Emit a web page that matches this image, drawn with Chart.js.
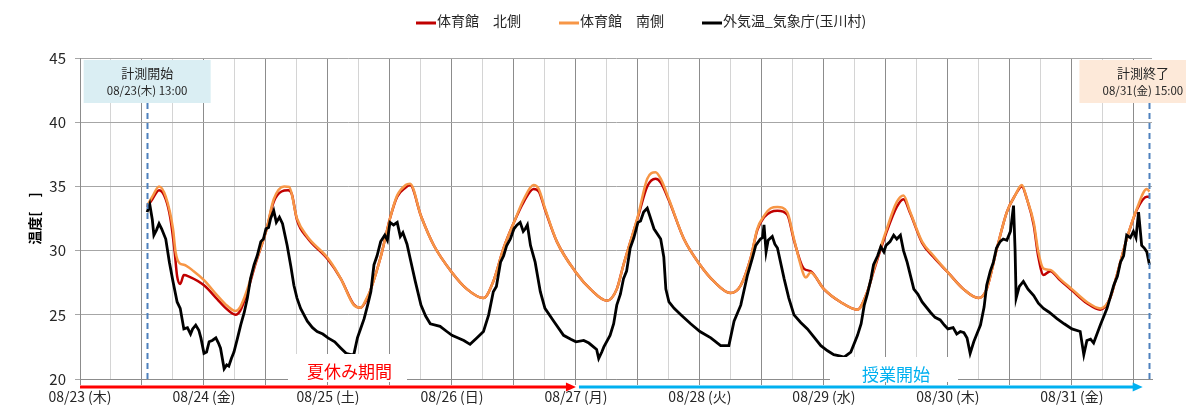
<!DOCTYPE html>
<html>
<head>
<meta charset="utf-8">
<script src="https://cdn.jsdelivr.net/npm/chart.js@4"></script>
<style>
  html, body { margin: 0; padding: 0; background: #fff; }
  #wrap { width: 1186px; height: 407px; }
</style>
</head>
<body>
<div id="wrap"><canvas id="myChart" width="1186" height="407"></canvas></div>
<script>
// hours counted from 08/23 00:00
const dayLabels = ['08/23 (木)','08/24 (金)','08/25 (土)','08/26 (日)','08/27 (月)','08/28 (火)','08/29 (水)','08/30 (木)','08/31 (金)'];
const yTicks = [20, 25, 30, 35, 40, 45];
const startHour = 13;    // 計測開始 08/23 13:00
const endHour = 207;     // 計測終了 08/31 15:00
const breakHour = 96;    // 08/27 00:00

const northHours = [13,14,15.3,16.6,17.5,18.3,18.8,19.4,20.1,21,24,26.6,28,29.5,30.1,31,32.4,34,36,37.5,39,40.3,41,42,44,48,50.5,53,54.3,55.5,56.3,58.2,60,61.4,63,63.9,66,68.5,72,74.9,78.1,80,82,84,85.9,87.8,88.8,90,92.3,96,98.8,102,103.9,105.2,108,109.8,111.4,112.4,114,116.9,120,122.7,125.9,127.9,129.8,131.1,132.4,133.7,135,136.9,138.2,140.1,141.4,144,147.2,150.5,152.4,153.7,156,158.1,159.4,160.7,163,165.2,168,171,173.9,175.5,177.5,179.4,181,182.3,183.3,184.6,185.5,186.5,187.8,189.7,192,194.9,197.5,199.4,200.7,202.6,204.6,206.5,207];
const northTemp  = [33.4,34.0,34.7,34.0,32.5,30.0,28.0,27.4,28.1,28.0,27.3,26.2,25.6,25.1,25.0,25.3,26.8,29.0,31.5,33.8,34.6,34.7,34.4,32.4,31.0,29.3,27.8,25.8,25.55,26.2,27.0,29.5,32.5,34.2,34.9,35.1,32.7,30.4,28.3,27.0,26.3,27.6,30.2,32.2,33.8,34.8,34.6,33.2,30.7,28.3,27.0,26.1,27.0,28.9,32.6,35.0,35.6,35.3,33.9,30.9,28.9,27.6,26.7,27.3,29.4,31.6,32.6,33.0,33.1,32.8,30.8,28.6,28.4,27.0,26.0,25.4,26.8,28.5,31.3,33.4,34.0,32.9,30.6,29.5,28.3,27.0,26.3,27.0,30.2,33.0,34.3,35.0,34.0,32.0,29.5,28.1,28.4,27.7,26.9,25.9,25.4,26.3,28.1,30.9,33.2,34.2,34.2];

const southHours = [13,14,15.3,16.6,18,18.5,19.3,20.1,22,24,26.6,28.5,30.1,31,32.4,34,36,37.5,39.5,40.5,42,44,48,50.5,53,54.3,55.5,56.3,58.2,60,61.4,63,63.9,66,68.5,72,74.9,78.1,80,82,84,85.9,87.8,88.8,90,92.3,96,98.8,102,103.9,105.2,108,109.8,111.4,112.4,114,116.9,120,122.7,125.9,127.9,129.8,131.1,132.4,133.7,135,136.9,138.2,140.1,140.5,141.4,144,147.2,150.5,152.4,153.7,156,158.1,159.4,160.7,163,165.2,168,171,173.9,175.5,177.5,179.4,181,182.3,183.3,184.6,185.5,186.5,187.8,189.7,192,194.9,197.5,199.4,200.7,202.6,204.6,206.5,207];
const southTemp  = [33.5,34.2,35.0,34.2,31.7,29.9,29.0,28.9,28.4,27.7,26.5,25.7,25.3,25.6,27.0,29.1,31.5,34.0,35.0,34.95,32.5,31.1,29.4,27.8,25.75,25.55,26.3,27.0,29.5,32.5,34.3,35.1,35.2,32.7,30.4,28.3,27.0,26.3,27.6,30.2,32.2,34.0,35.1,34.8,33.3,30.7,28.3,27.0,26.1,27.0,28.9,32.7,35.6,36.1,35.6,34.0,30.9,28.9,27.6,26.7,27.3,29.4,31.7,32.7,33.3,33.4,33.0,30.9,28.1,27.9,28.3,27.0,26.0,25.4,26.8,28.6,31.5,33.8,34.3,33.0,30.7,29.6,28.3,27.0,26.3,27.0,30.2,33.0,34.3,35.1,34.0,32.2,29.9,28.6,28.5,27.8,27.0,26.0,25.5,26.3,28.1,30.9,33.3,34.8,34.6];

const outHours = [13,13.5,14,14.3,14.8,15.3,15.8,16.6,17.3,18,18.8,19.4,20.1,20.8,21.4,21.8,22.4,23,23.4,24,24.5,25,25.6,26.3,26.8,27.2,27.9,28.4,28.8,29.3,29.8,30.5,31.1,31.8,32.4,33,33.7,34.3,35,35.5,36,36.5,36.9,37.5,38,38.6,39.2,40.1,40.8,41.4,42,42.7,44,45,45.9,47,48,49.3,50.5,51.5,52.4,53,53.7,54.3,55,55.7,56.3,56.9,57.5,58.2,59,59.5,60,60.7,61.4,62,62.5,63.3,63.9,64.9,66,66.9,67.8,69.7,71,72,73.2,74.3,75.5,76.8,78.1,79.1,80,80.6,81.4,82,82.6,83.3,84,84.6,85.2,85.8,86.2,86.6,87.2,88.1,89.1,90,91.7,93.6,95,96,97.5,98.5,99.4,100,100.4,101,101.4,102.6,103.3,103.9,104.6,105.2,105.8,106.5,107.2,108,108.5,109.1,109.8,110.3,111.1,112.4,113,113.4,114,115,116.3,118.2,120,122.1,124,125.6,126.6,127.9,129.2,130.2,130.8,131.7,132.1,132.4,132.8,133.2,134,134.5,135,136.3,137.2,138.2,139.5,140.8,142,143.4,144.7,145.9,147,147.9,149.2,150.5,151.2,151.8,152.4,153.1,153.6,154.4,155,155.6,156,156.8,157.5,158.1,158.8,159.4,160.1,161.4,162.2,163,164.6,165.5,166.5,167.3,168,169,169.7,170.4,171.1,171.7,172.3,173,173.6,174.3,175,175.5,176.2,176.8,177.4,178.1,178.7,179.4,180.1,180.7,181,181.2,181.8,182.6,183.5,184.6,185.5,186.5,187.6,189.1,190.5,192,193.6,194.3,194.9,195.6,196.2,197.5,198.8,200.1,200.8,201.4,202,202.6,203.3,203.9,204.4,204.9,205.5,206,206.5,207];
const outTemp  = [33.0,33.6,32.4,31.2,31.6,32.1,31.7,30.9,29.1,27.6,26.0,25.5,23.9,24.0,23.5,23.9,24.2,23.8,23.2,22.0,22.1,22.9,23.0,23.2,22.8,22.4,20.8,21.1,21.0,21.6,22.1,23.2,24.2,25.2,26.3,27.8,28.9,29.6,30.7,30.9,31.7,31.8,32.5,33.1,32.2,32.6,32.1,30.4,28.8,27.3,26.3,25.5,24.5,24.0,23.7,23.5,23.2,22.9,22.4,22.0,21.9,21.9,23.2,23.9,24.7,25.8,26.8,28.9,29.6,30.7,31.2,30.8,32.2,32.0,32.2,31.1,31.4,30.5,29.4,27.6,25.75,24.9,24.3,24.1,23.7,23.4,23.2,23.0,22.7,23.2,23.7,25.0,26.8,27.2,29.1,29.6,30.4,30.9,31.7,32.0,32.2,31.5,31.7,32.0,30.4,29.1,26.8,25.5,24.5,23.4,23.1,22.9,23.0,22.8,22.5,22.3,21.6,22.1,22.5,23.4,24.3,25.75,26.6,27.8,28.4,30.2,31.0,32.2,32.3,33.0,33.3,32.7,31.7,30.9,29.5,27.0,26.0,25.5,25.0,24.3,23.7,23.2,22.6,22.6,24.5,25.75,28.1,29.5,30.4,30.9,31.0,32.0,29.9,30.8,31.1,30.5,30.2,27.8,26.3,25.0,24.4,23.9,23.3,22.6,22.2,21.9,21.8,21.7,22.1,23.4,24.3,25.75,26.6,27.8,28.9,29.6,30.3,29.9,30.4,30.7,31.2,30.9,31.2,30.0,29.1,27.0,26.6,26.0,25.2,24.8,24.6,24.2,23.9,24.0,23.5,23.7,23.6,23.2,22.0,22.9,23.5,24.2,25.6,27.3,28.4,29.1,30.2,30.7,30.9,30.8,31.5,33.5,30.0,26.3,27.2,27.6,27.0,26.5,25.9,25.5,25.2,24.7,24.3,23.9,23.7,21.9,23.0,23.1,22.8,24.2,25.5,27.3,28.0,29.1,29.6,31.2,31.0,31.5,31.0,33.0,30.4,30.2,29.9,28.9];

const gridHours = [];
for (let h = 0; h <= 204; h += 6) gridHours.push(h);

const FONT = "'Noto Sans CJK JP', sans-serif";
const pts = (hs, vs) => hs.map((h, i) => ({x: h, y: vs[i]}));

const series = [
  {label: '体育館　北側', data: pts(northHours, northTemp), color: '#C00000', order: 2, smooth: true, width: 2.5},
  {label: '体育館　南側', data: pts(southHours, southTemp), color: '#F79646', order: 1, smooth: true, width: 2.5},
  {label: '外気温_気象庁(玉川村)', data: pts(outHours, outTemp), color: '#000000', order: 0, smooth: false, width: 2.8}
];

// legend, annotation boxes, arrows
const decor = {
  id: 'decor',
  afterDatasetsDraw(chart) {
    const {ctx, chartArea: a, scales: {x}} = chart;
    ctx.save();
    // dashed lines for start / end
    ctx.strokeStyle = '#4F81BD';
    ctx.lineWidth = 2;
    ctx.setLineDash([6, 4]);
    [startHour, endHour].forEach(h => {
      const px = Math.round(x.getPixelForValue(h)) + 0.5;
      ctx.beginPath(); ctx.moveTo(px, a.top + 45); ctx.lineTo(px, a.bottom); ctx.stroke();
    });
    ctx.setLineDash([]);

    // start / end boxes
    const box = (cx, bg, t1, t2) => {
      ctx.fillStyle = bg;
      ctx.fillRect(cx - 63.5, a.top + 2, 127, 43);
      ctx.fillStyle = '#262626';
      ctx.textAlign = 'center'; ctx.textBaseline = 'middle';
      ctx.font = '13px ' + FONT;
      ctx.fillText(t1, cx, a.top + 15);
      ctx.font = '11.5px ' + FONT;
      ctx.fillText(t2, cx, a.top + 33);
    };
    box(x.getPixelForValue(startHour), '#DAEEF3', '計測開始', '08/23(木) 13:00');
    box(x.getPixelForValue(endHour) - 6.5, '#FDE9D9', '計測終了', '08/31(金) 15:00');

    // period labels
    const period = (l, r, top, text, color, ty) => {
      ctx.fillStyle = '#fff';
      ctx.fillRect(l, top, r - l, a.bottom + 3 - top);
      ctx.fillStyle = color;
      ctx.font = '17px ' + FONT;
      ctx.textAlign = 'center'; ctx.textBaseline = 'middle';
      ctx.fillText(text, (l + r) / 2 + 2, ty);
    };
    period(288, 407, a.top + 296, '夏休み期間', '#FF0000', 372);
    period(830, 958, a.top + 299, '授業開始', '#00B0F0', 374.5);

    // arrows
    const arrow = (x1, x2, yy, color) => {
      ctx.strokeStyle = color; ctx.fillStyle = color; ctx.lineWidth = 3;
      ctx.beginPath(); ctx.moveTo(x1, yy); ctx.lineTo(x2 - 8, yy); ctx.stroke();
      ctx.beginPath(); ctx.moveTo(x2, yy); ctx.lineTo(x2 - 10, yy - 4.5); ctx.lineTo(x2 - 10, yy + 4.5); ctx.closePath(); ctx.fill();
    };
    const ay = a.bottom + 8;
    arrow(x.getPixelForValue(0), x.getPixelForValue(breakHour), ay, '#FF0000');
    arrow(x.getPixelForValue(breakHour) + 3, x.getPixelForValue(205.7), ay, '#00B0F0');

    // legend
    ctx.font = '14px ' + FONT;
    ctx.textAlign = 'left'; ctx.textBaseline = 'middle';
    let lx = 416;
    series.forEach(s => {
      ctx.strokeStyle = s.color; ctx.lineWidth = 3;
      ctx.beginPath(); ctx.moveTo(lx, 23); ctx.lineTo(lx + 20, 23); ctx.stroke();
      ctx.fillStyle = '#262626';
      ctx.fillText(s.label, lx + 21, 21);
      lx += 21 + ctx.measureText(s.label).width + 38;
    });
    ctx.restore();
  }
};

new Chart(document.getElementById('myChart'), {
  type: 'line',
  data: {
    datasets: series.map(s => ({
      label: s.label,
      data: s.data,
      borderColor: s.color,
      backgroundColor: s.color,
      borderWidth: s.width,
      pointRadius: 0,
      order: s.order,
      cubicInterpolationMode: s.smooth ? 'monotone' : 'default',
      tension: 0
    }))
  },
  options: {
    responsive: false,
    animation: false,
    layout: { padding: { top: 58, right: 34, left: 0, bottom: 0 } },
    plugins: { legend: { display: false }, tooltip: { enabled: false } },
    scales: {
      x: {
        type: 'linear',
        min: 0,
        max: 207.5,
        afterBuildTicks: s => { s.ticks = gridHours.map(v => ({value: v})); },
        afterFit: s => { s.height = 28; },
        ticks: {
          autoSkip: false,
          maxRotation: 0,
          padding: 3,
          color: '#262626',
          font: { family: FONT, size: 14 },
          callback: v => (v % 24 === 0 ? dayLabels[v / 24] : '')
        },
        grid: {
          color: c => (c.tick && c.tick.value % 12 === 0 ? '#8c8c8c' : '#d4d4d4'),
          tickLength: 6,
          tickColor: c => (c.tick && c.tick.value % 12 === 0 ? '#8c8c8c' : 'rgba(0,0,0,0)')
        },
        border: { color: '#8c8c8c' }
      },
      y: {
        min: 20,
        max: 45,
        afterBuildTicks: s => { s.ticks = yTicks.map(v => ({value: v})); },
        afterFit: s => { s.width = 80; },
        ticks: { padding: 9, color: '#262626', font: { family: FONT, size: 15 } },
        grid: { color: '#a6a6a6', tickLength: 5 },
        border: { color: '#8c8c8c' },
        title: {
          display: true,
          text: '温度[　]',
          color: '#000',
          font: { family: FONT, size: 14, weight: 'bold' },
          padding: { top: 26 }
        }
      }
    }
  },
  plugins: [decor]
});
</script>
</body>
</html>
